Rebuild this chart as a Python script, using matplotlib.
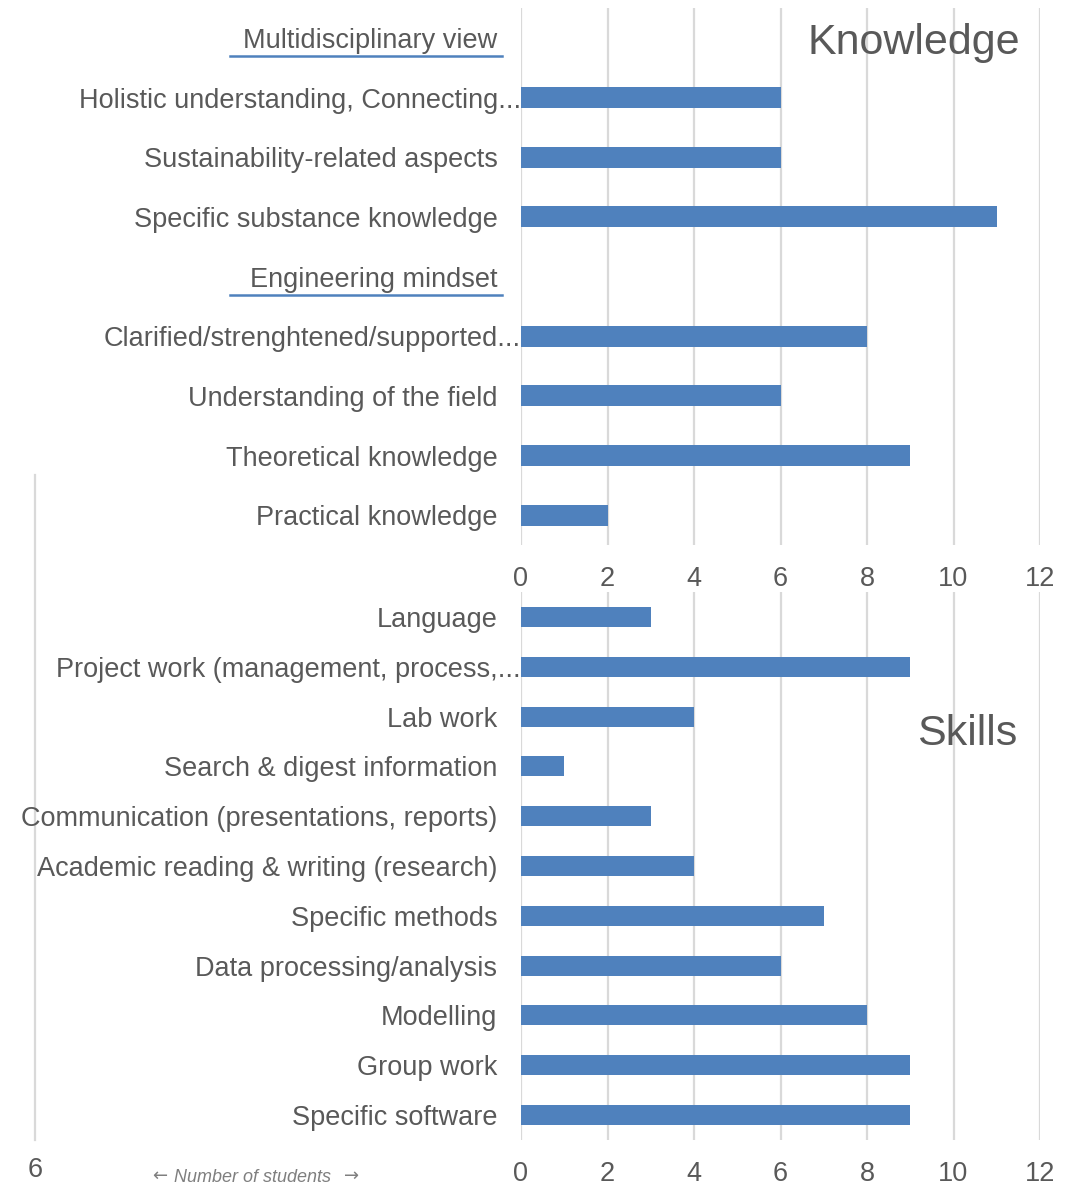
import matplotlib
matplotlib.use("Agg")
import matplotlib.pyplot as plt
import matplotlib.transforms as mtransforms
import numpy as np

plt.rcParams['font.family'] = ['Liberation Sans', 'DejaVu Sans']

# knowledge block (top to bottom), None marks a group header row
knowledge_labels = ["Multidisciplinary view",
                    "Holistic understanding, Connecting...",
                    "Sustainability-related aspects",
                    "Specific substance knowledge",
                    "Engineering mindset",
                    "Clarified/strenghtened/supported...",
                    "Understanding of the field",
                    "Theoretical knowledge",
                    "Practical knowledge"]
knowledge_counts = [None, 6, 6, 11, None, 8, 6, 9, 2]

skills_labels = ["Language",
                 "Project work (management, process,...",
                 "Lab work",
                 "Search & digest information",
                 "Communication (presentations, reports)",
                 "Academic reading & writing (research)",
                 "Specific methods",
                 "Data processing/analysis",
                 "Modelling",
                 "Group work",
                 "Specific software"]
skills_counts = [3, 9, 4, 1, 3, 4, 7, 6, 8, 9, 9]

xticks = [0, 2, 4, 6, 8, 10, 12]

BAR = "#4F81BD"
TXT = "#595959"
GRID = "#D9D9D9"
FS = 19.5

W, H = 1072, 1187
fig = plt.figure(figsize=(W / 100, H / 100), dpi=100)


def px_rect(x0, y0, x1, y1):
    return [x0 / W, 1 - y1 / H, (x1 - x0) / W, (y1 - y0) / H]


def setup(ax, labels, n):
    ax.set_xlim(0, 12)
    ax.set_ylim(n - 0.5, -0.5)
    ax.set_xticks(xticks)
    ax.set_yticks(range(n))
    ax.set_yticklabels(labels)
    for s in ax.spines.values():
        s.set_visible(False)
    ax.tick_params(axis='both', length=0, colors=TXT, labelsize=FS)
    ax.tick_params(axis='y', pad=17)
    ax.tick_params(axis='x', pad=15)
    ax.grid(axis='x', color=GRID, lw=1.6)
    ax.set_axisbelow(True)
    ax.patch.set_alpha(0)
    # truncated labels run right up to the axis
    shift = mtransforms.ScaledTranslation(17 / 72, 0, fig.dpi_scale_trans)
    for lab in ax.get_yticklabels():
        if lab.get_text().endswith("..."):
            lab.set_transform(lab.get_transform() + shift)


ax1 = fig.add_axes(px_rect(521, 8, 1040, 545))
setup(ax1, knowledge_labels, len(knowledge_labels))
pos = [i for i, v in enumerate(knowledge_counts) if v is not None]
vals = [v for v in knowledge_counts if v is not None]
ax1.barh(pos, vals, height=0.35, color=BAR)

# underline the group header rows
hdr = mtransforms.blended_transform_factory(fig.transFigure, ax1.transData)
for i, v in enumerate(knowledge_counts):
    if v is None:
        ax1.plot([230 / W, 502 / W], [i + 0.31, i + 0.31], color=BAR, lw=1.8,
                 transform=hdr, clip_on=False)

ax1.text(0.757, 0.935, "Knowledge", transform=ax1.transAxes, fontsize=31,
         color=TXT, ha='center', va='center')

ax2 = fig.add_axes(px_rect(521, 592, 1040, 1140))
setup(ax2, skills_labels, len(skills_labels))
ax2.barh(range(len(skills_counts)), skills_counts, height=0.4, color=BAR)
ax2.text(0.86, 0.74, "Skills", transform=ax2.transAxes, fontsize=31,
         color=TXT, ha='center', va='center')

# leftover axis line of the mirrored half, kept behind the labels
fig.add_artist(plt.Line2D([35 / W, 35 / W], [1 - 475 / H, 1 - 1140 / H],
                          color=GRID, lw=1.6, zorder=-1))
fig.text(35 / W, 1 - 1170 / H, "6", fontsize=FS, color=TXT,
         ha='center', va='center')
fig.text(252 / W, 1 - 1177 / H, "Number of students", fontsize=13,
         style='italic', color="#7F7F7F", ha='center', va='center')
fig.text(160 / W, 1 - 1176 / H, "\u2190", fontsize=13, family='DejaVu Sans',
         color="#7F7F7F", ha='center', va='center')
fig.text(352 / W, 1 - 1176 / H, "\u2192", fontsize=13, family='DejaVu Sans',
         color="#7F7F7F", ha='center', va='center')

fig.savefig("out.png", dpi=100, facecolor="white")
